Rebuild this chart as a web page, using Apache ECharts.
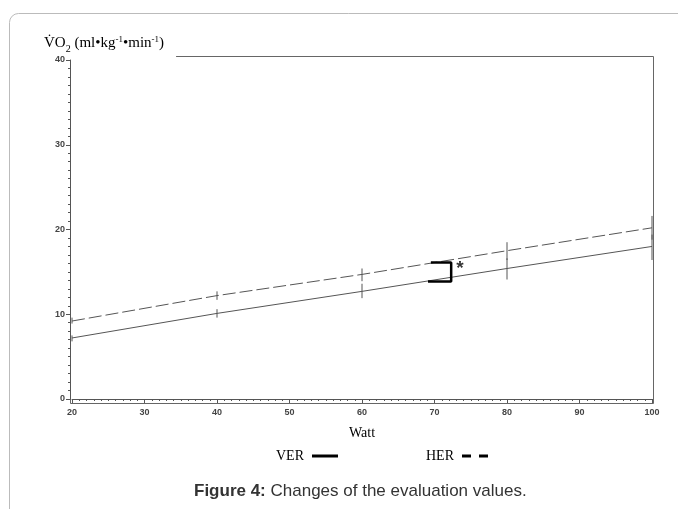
<!DOCTYPE html>
<html>
<head>
<meta charset="utf-8">
<script src="https://cdn.jsdelivr.net/npm/echarts@6/dist/echarts.min.js"></script>
<style>
    html, body { margin: 0; padding: 0; background: #fff; }
    #main { width: 678px; height: 509px; }
</style>
</head>
<body>
<div id="main"></div>
<script>
    // data
    var watt = [20, 40, 60, 80, 100];
    var ver = [7.2, 10.1, 12.7, 15.4, 18.0];
    var her = [9.2, 12.2, 14.7, 17.5, 20.2];
    var verLow = [6.8, 9.6, 11.9, 14.1, 16.4];
    var verHigh = [7.5, 10.6, 13.6, 16.6, 19.4];
    var herLow = [8.9, 11.7, 13.9, 16.4, 18.8];
    var herHigh = [9.6, 12.7, 15.4, 18.5, 21.6];
    // significance bracket at 70 W
    var bracketX = [69.5, 72.3, 72.3, 69.1];
    var bracketY = [16.1, 16.1, 13.85, 13.85];
    var starPoint = [73.5, 15.4];

    var xTicks = { min: 20, max: 100, interval: 10 };
    var yTicks = { min: 0, max: 40, interval: 10 };

    function pairs(xs, ys) {
        return xs.map(function (x, i) { return [x, ys[i]]; });
    }
    function bars(low, high) {
        return watt.map(function (x, i) { return [x, low[i], high[i]]; });
    }
    function errorBar(params, api) {
        var p1 = api.coord([api.value(0), api.value(1)]);
        var p2 = api.coord([api.value(0), api.value(2)]);
        return {
            type: 'line',
            shape: { x1: p1[0], y1: p1[1], x2: p2[0], y2: p2[1] },
            style: { stroke: '#555', lineWidth: 1 }
        };
    }

    var tickFont = { fontFamily: 'Liberation Sans', fontSize: 9, fontWeight: 'bold', color: '#444' };
    var serif = 'Liberation Serif';

    var myChart = echarts.init(document.getElementById('main'));

    var option = {
        animation: false,
        graphic: [{
            type: 'rect',
            shape: { x: 9.5, y: 13.5, width: 720, height: 600, r: 9 },
            style: { fill: 'none', stroke: '#bbb', lineWidth: 1 },
            z: -10
        }],
        title: [{
            text: '{a|V\u0307O}{s|2}{a| (ml\u2022kg}{p|-1}{a|\u2022min}{p|-1}{a|)}',
            left: 40,
            top: 30,
            z: 1,
            padding: [4, 12, 6, 4],
            backgroundColor: '#fff',
            textStyle: {
                rich: {
                    a: { fontFamily: serif, fontSize: 15, fontWeight: 'normal', color: '#000', lineHeight: 18 },
                    s: { fontFamily: serif, fontSize: 10, fontWeight: 'normal', color: '#000', lineHeight: 18, verticalAlign: 'bottom', padding: [0, 0, -2, 0] },
                    p: { fontFamily: serif, fontSize: 9, fontWeight: 'normal', color: '#000', lineHeight: 18, verticalAlign: 'top', padding: [1, 0, 0, 0] }
                }
            }
        }, {
            text: '{b|Figure 4:}{n| Changes of the evaluation values.}',
            left: 189,
            top: 478,
            textStyle: {
                rich: {
                    b: { fontFamily: 'Liberation Sans', fontSize: 17, fontWeight: 'bold', color: '#333' },
                    n: { fontFamily: 'Liberation Sans', fontSize: 17, fontWeight: 'normal', color: '#333' }
                }
            }
        }],
        legend: {
            left: 271,
            top: 444,
            itemWidth: 26,
            itemHeight: 3,
            itemGap: 88,
            align: 'right',
            selectedMode: false,
            textStyle: { fontFamily: serif, fontSize: 14, color: '#000', padding: [0, 3, 0, 0] },
            data: [
                { name: 'VER', icon: 'path://M0,0H26V3H0Z', itemStyle: { color: '#000', borderWidth: 0 } },
                { name: 'HER', icon: 'path://M0,0H9V3H0ZM17,0H26V3H17Z', itemStyle: { color: '#000', borderWidth: 0 } }
            ]
        },
        grid: [
            { left: 72, right: 26, top: 60, bottom: 110 },
            { left: 70.5, right: 24.5, top: 56.5, bottom: 105.5, show: true, borderColor: '#666', borderWidth: 1 }
        ],
        xAxis: [{
            gridIndex: 0,
            type: 'value',
            min: xTicks.min,
            max: xTicks.max,
            interval: xTicks.interval,
            offset: 4,
            z: 3,
            axisLine: { lineStyle: { color: '#555' } },
            axisTick: { length: 4, lineStyle: { color: '#555' } },
            minorTick: { show: true, splitNumber: 10, length: 2, lineStyle: { color: '#555' } },
            axisLabel: Object.assign({ margin: 5 }, tickFont),
            splitLine: { show: false },
            name: 'Watt',
            nameLocation: 'middle',
            nameGap: 23,
            nameTextStyle: { fontFamily: serif, fontSize: 14, color: '#000' }
        }, {
            gridIndex: 1, type: 'value', min: 0, max: 1, show: false
        }],
        yAxis: [{
            gridIndex: 0,
            type: 'value',
            min: yTicks.min,
            max: yTicks.max,
            interval: yTicks.interval,
            offset: 2,
            z: 3,
            axisLine: { show: true, lineStyle: { color: '#555' } },
            axisTick: { show: true, length: 4, lineStyle: { color: '#555' } },
            minorTick: { show: true, splitNumber: 10, length: 2, lineStyle: { color: '#555' } },
            axisLabel: Object.assign({ margin: 5 }, tickFont),
            splitLine: { show: false }
        }, {
            gridIndex: 1, type: 'value', min: 0, max: 1, show: false
        }],
        series: [
            {
                name: 'VER',
                type: 'line',
                data: pairs(watt, ver),
                symbol: 'none',
                lineStyle: { color: '#555', width: 1 }
            },
            {
                name: 'HER',
                type: 'line',
                data: pairs(watt, her),
                symbol: 'none',
                lineStyle: { color: '#555', width: 1, type: [13, 4] }
            },
            {
                type: 'custom',
                renderItem: errorBar,
                encode: { x: 0, y: [1, 2] },
                data: bars(verLow, verHigh)
            },
            {
                type: 'custom',
                renderItem: errorBar,
                encode: { x: 0, y: [1, 2] },
                data: bars(herLow, herHigh)
            },
            {
                type: 'line',
                data: pairs(bracketX, bracketY),
                symbol: 'none',
                lineStyle: { color: '#000', width: 2.5 },
                z: 5
            },
            {
                type: 'scatter',
                data: [starPoint],
                symbolSize: 1,
                itemStyle: { color: 'rgba(0,0,0,0)' },
                label: {
                    show: true,
                    position: 'inside',
                    formatter: '*',
                    fontFamily: 'Liberation Sans',
                    fontSize: 19,
                    fontWeight: 'bold',
                    color: '#000'
                }
            }
        ]
    };

    myChart.setOption(option);
</script>
</body>
</html>
